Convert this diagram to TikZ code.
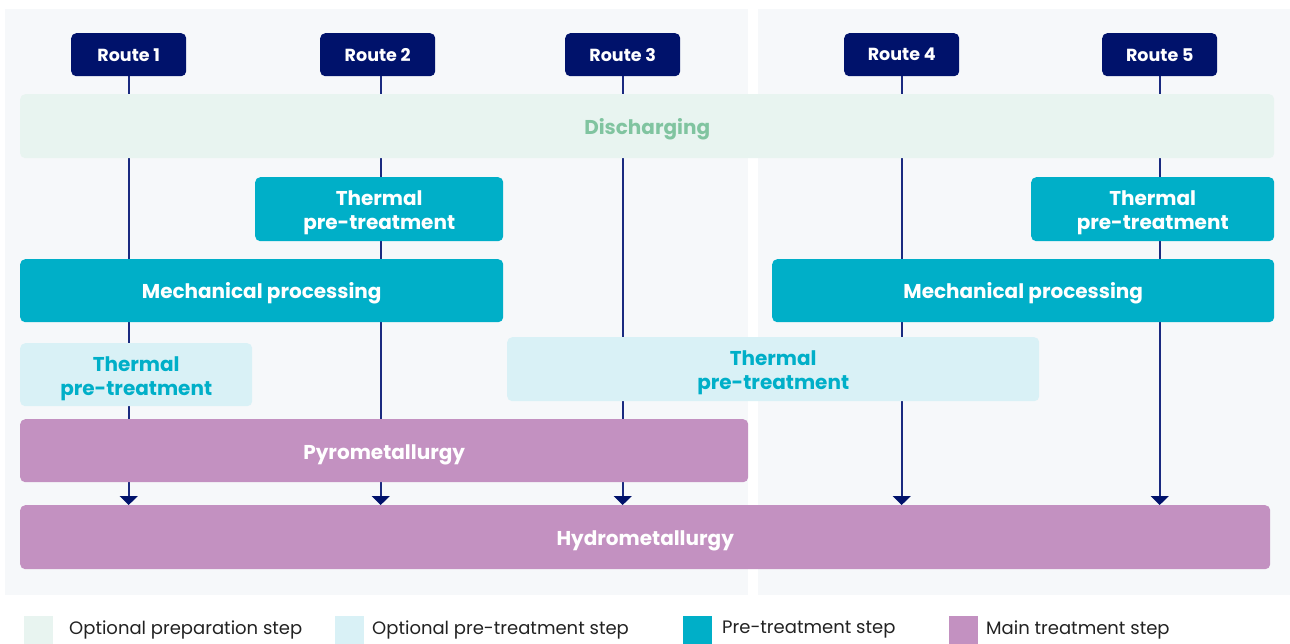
\documentclass[tikz,border=0pt]{standalone}
\usepackage{fontspec}
\setmainfont{Poppins}
\usetikzlibrary{arrows.meta}
\definecolor{navy}{HTML}{00126B}
\definecolor{linecol}{HTML}{1A2A80}
\definecolor{panelbg}{HTML}{F6F8FA}
\definecolor{prepfill}{HTML}{E8F4F0}
\definecolor{preptext}{HTML}{80C4A0}
\definecolor{optfill}{HTML}{D9F1F6}
\definecolor{teal}{HTML}{00AFC8}
\definecolor{mauve}{HTML}{C391C1}
\definecolor{legendtext}{HTML}{222222}
\pgfdeclarelayer{panels}
\pgfdeclarelayer{lines}
\pgfsetlayers{panels,lines,main}
% label text, nudged a little below the box centre
\newcommand{\steplabel}[1]{\raisebox{-3.5pt}[\height][\depth]{\begin{tabular}{@{}c@{}}#1\end{tabular}}}
\tikzset{
  stepbox/.style={anchor=north west, inner sep=0pt, rounded corners=5pt,
    align=center, font=\fontsize{20}{24}\selectfont\bfseries, text=white},
  routebox/.style={stepbox, fill=navy, font=\fontsize{17.5}{20}\selectfont\bfseries,
    minimum width=115pt, minimum height=43pt},
  prepstep/.style={stepbox, fill=prepfill, text=preptext},
  optstep/.style={stepbox, fill=optfill, text=teal},
  prestep/.style={stepbox, fill=teal},
  mainstep/.style={stepbox, fill=mauve},
  routeline/.style={draw=linecol, line width=1.8pt,
    -{Triangle[width=18pt,length=9pt,color=navy]}},
  swatch/.style={anchor=north west, inner sep=0pt, minimum width=29pt, minimum height=30pt},
  legendlabel/.style={anchor=west, inner sep=0pt, text=legendtext,
    font=\fontsize{18}{21}\selectfont},
}
\begin{document}
\begin{tikzpicture}[x=1pt,y=-1pt]
\useasboundingbox (0,0) rectangle (1290,644);

% white page and grey panels behind the routes
\begin{pgfonlayer}{panels}
\fill[white] (0,0) rectangle (1290,644);
\fill[panelbg] (5,9) rectangle (748,595);
\fill[panelbg] (758,9) rectangle (1290,595);
\end{pgfonlayer}

% route headers
\node[routebox] (r1) at (71,33) {Route 1};
\node[routebox] (r2) at (320,33) {Route 2};
\node[routebox] (r3) at (565,33) {Route 3};
\node[routebox] (r4) at (844,33) {Route 4};
\node[routebox] (r5) at (1102,33) {Route 5};

% process steps
\node[prepstep, minimum width=1254pt, minimum height=64pt] (dis) at (20,94) {\steplabel{Discharging}};
\node[prestep, minimum width=248pt, minimum height=64pt] (th2) at (255,177) {\steplabel{Thermal\\pre-treatment}};
\node[prestep, minimum width=243pt, minimum height=64pt] (th5) at (1031,177) {\steplabel{Thermal\\pre-treatment}};
\node[prestep, minimum width=483pt, minimum height=63pt] (mechL) at (20,259) {\steplabel{Mechanical processing}};
\node[prestep, minimum width=502pt, minimum height=63pt] (mechR) at (772,259) {\steplabel{Mechanical processing}};
\node[optstep, minimum width=232pt, minimum height=63pt] (th1) at (20,343) {\steplabel{Thermal\\pre-treatment}};
\node[optstep, minimum width=532pt, minimum height=64pt] (th34) at (507,337) {\steplabel{Thermal\\pre-treatment}};
\node[mainstep, minimum width=728pt, minimum height=63pt] (pyro) at (20,419) {\steplabel{Pyrometallurgy}};
\node[mainstep, minimum width=1250pt, minimum height=64pt] (hydro) at (20,505) {\steplabel{Hydrometallurgy}};

% route lines run behind the steps down to hydrometallurgy
\coordinate (r2out) at ([xshift=3pt]r2.south);
\begin{pgfonlayer}{lines}
\foreach \r in {r1.south,r2out,r3.south,r4.south,r5.south}
  \draw[routeline] (\r) -- (\r |- hydro.north);
\end{pgfonlayer}

% legend
\node[swatch, fill=prepfill] (k1) at (24,616) {};
\node[legendlabel] (l1) at (69,630) {Optional preparation step};
\node[swatch, fill=optfill] (k2) at (335,616) {};
\node[legendlabel] (l2) at (372,630) {Optional pre-treatment step};
\node[swatch, fill=teal] (k3) at (683,616) {};
\node[legendlabel] (l3) at (722,630) {Pre-treatment step};
\node[swatch, fill=mauve] (k4) at (949,616) {};
\node[legendlabel] (l4) at (986,630) {Main treatment step};
\end{tikzpicture}
\end{document}
